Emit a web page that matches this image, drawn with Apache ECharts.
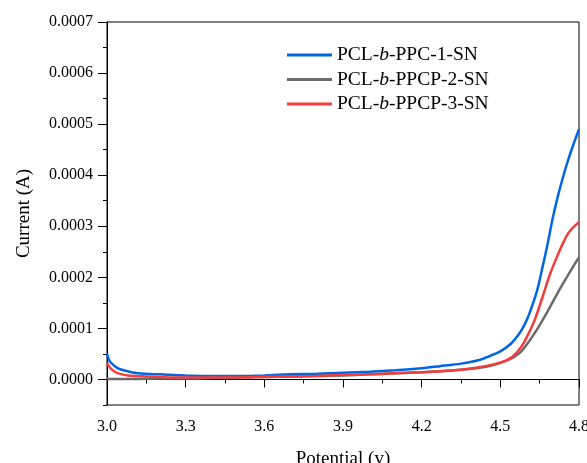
<!DOCTYPE html>
<html>
<head>
<meta charset="utf-8">
<script src="https://cdn.jsdelivr.net/npm/echarts@6/dist/echarts.min.js"></script>
<style>html,body{margin:0;padding:0;background:#fff;}#c{width:587px;height:463px;}</style>
</head>
<body>
<div id="c"></div>
<script>
var seriesNames = ['PCL-b-PPC-1-SN', 'PCL-b-PPCP-2-SN', 'PCL-b-PPCP-3-SN'];
var xTickLabels = ['3.0', '3.3', '3.6', '3.9', '4.2', '4.5', '4.8'];
var yTickLabels = ['0.0000', '0.0001', '0.0002', '0.0003', '0.0004', '0.0005', '0.0006', '0.0007'];

var potential1 = [3.00,3.01,3.03,3.05,3.08,3.12,3.20,3.30,3.40,3.50,3.60,3.70,3.80,3.90,4.00,4.10,4.20,4.27,4.35,4.42,4.46,4.50,4.54,4.57,4.59,4.61,4.64,4.66,4.68,4.70,4.72,4.74,4.76,4.78,4.80];
var current1 = [0.000050,0.000036,0.000026,0.000020,0.000016,0.000012,0.000010,0.000008,0.000007,0.000007,0.000008,0.000010,0.000011,0.000013,0.000015,0.000018,0.000022,0.000026,0.000031,0.000038,0.000046,0.000055,0.000070,0.000088,0.000105,0.000128,0.000174,0.000218,0.000265,0.000316,0.000360,0.000398,0.000432,0.000462,0.000490];

var potential2 = [3.00,3.10,3.20,3.30,3.40,3.50,3.60,3.70,3.80,3.90,4.00,4.10,4.20,4.27,4.35,4.42,4.47,4.52,4.55,4.58,4.61,4.64,4.67,4.70,4.73,4.76,4.78,4.80];
var current2 = [0.000001,0.000001,0.000002,0.000002,0.000003,0.000004,0.000005,0.000006,0.000007,0.000008,0.000010,0.000012,0.000014,0.000016,0.000019,0.000023,0.000028,0.000036,0.000043,0.000055,0.000075,0.000098,0.000124,0.000152,0.000180,0.000206,0.000223,0.000239];

var potential3 = [3.00,3.01,3.03,3.05,3.08,3.15,3.25,3.35,3.50,3.60,3.70,3.80,3.90,4.00,4.10,4.20,4.27,4.35,4.42,4.47,4.52,4.55,4.58,4.60,4.63,4.66,4.69,4.72,4.74,4.76,4.78,4.80];
var current3 = [0.000033,0.000024,0.000015,0.000011,0.000008,0.000006,0.000004,0.000004,0.000004,0.000005,0.000006,0.000007,0.000009,0.000010,0.000012,0.000014,0.000016,0.000019,0.000024,0.000029,0.000037,0.000046,0.000064,0.000082,0.000115,0.000160,0.000207,0.000245,0.000268,0.000287,0.000299,0.000308];

var colors = ['#0066e6', '#6b6b6b', '#f53c3c'];

function pairs(xs, ys) { return xs.map(function (x, i) { return [x, ys[i]]; }); }

var FONT = '"Liberation Serif", "Times New Roman", serif';
var chart = echarts.init(document.getElementById('c'), null, {renderer: 'canvas'});

var option = {
  animation: false,
  backgroundColor: '#fff',
  grid: [
    {left: 107, right: 8, top: 22, bottom: 58, show: true, borderColor: '#000', borderWidth: 1, outerBoundsMode: 'none', containLabel: false},
    {left: 107, right: 8, top: 22, bottom: 83.57, show: false, outerBoundsMode: 'none', containLabel: false}
  ],
  legend: {
    orient: 'vertical',
    left: 287,
    top: 45,
    padding: 0,
    icon: 'rect',
    itemWidth: 45,
    itemHeight: 3,
    itemGap: 4.5,
    data: seriesNames,
    textStyle: {
      fontFamily: FONT, fontSize: 19.5, color: '#000',
      rich: {
        n: {fontFamily: FONT, fontSize: 19.5, color: '#000'},
        i: {fontFamily: FONT, fontSize: 19.5, color: '#000', fontStyle: 'italic'}
      }
    },
    formatter: function (name) {
      var parts = name.split('-b-');
      return '{n|' + parts[0] + '-}{i|b}{n|-' + parts[1] + '}';
    }
  },
  xAxis: [
    {
      type: 'value', gridIndex: 0, min: 3.0, max: 4.8, interval: 0.3,
      name: 'Potential (v)', nameLocation: 'middle', nameGap: 45,
      nameTextStyle: {fontFamily: FONT, fontSize: 19, color: '#000'},
      axisLine: {lineStyle: {color: '#000', width: 1}},
      axisTick: {inside: false, length: 8, lineStyle: {color: '#000'}},
      minorTick: {show: true, splitNumber: 2, length: 4, lineStyle: {color: '#000'}},
      splitLine: {show: false},
      axisLabel: {
        fontFamily: FONT, fontSize: 16, color: '#000', margin: 14,
        formatter: function (v) {
          var idx = Math.round((v - 3.0) / 0.3);
          return xTickLabels[idx] !== undefined ? xTickLabels[idx] : '';
        }
      }
    },
    {type: 'value', gridIndex: 1, min: 3.0, max: 4.8, show: false}
  ],
  yAxis: [
    {
      type: 'value', gridIndex: 0, min: -0.00005, max: 0.0007, interval: 0.00005,
      name: 'Current (A)', nameLocation: 'middle', nameGap: 73,
      nameTextStyle: {fontFamily: FONT, fontSize: 19, color: '#000'},
      axisLine: {show: true, lineStyle: {color: '#000', width: 1}},
      axisTick: {inside: false, length: 4, lineStyle: {color: '#000'}},
      splitLine: {show: false},
      axisLabel: {
        fontFamily: FONT, fontSize: 16, color: '#000', margin: 14,
        formatter: function (v) {
          var k = Math.round(v / 0.00005);
          if (k < 0 || k % 2 !== 0) return '';
          return yTickLabels[k / 2] || '';
        }
      }
    },
    {
      type: 'value', gridIndex: 1, min: 0, max: 0.0007, interval: 0.0001,
      axisLine: {show: false},
      axisTick: {show: true, inside: false, length: 9, lineStyle: {color: '#000'}},
      axisLabel: {show: false},
      splitLine: {show: false}
    }
  ],
  series: [
    {name: seriesNames[0], type: 'line', xAxisIndex: 0, yAxisIndex: 0, data: pairs(potential1, current1), smooth: 0.3, symbol: 'none', color: colors[0], lineStyle: {width: 2.5, color: colors[0]}},
    {name: seriesNames[1], type: 'line', xAxisIndex: 0, yAxisIndex: 0, data: pairs(potential2, current2), smooth: 0.3, symbol: 'none', color: colors[1], lineStyle: {width: 2.5, color: colors[1]}},
    {name: seriesNames[2], type: 'line', xAxisIndex: 0, yAxisIndex: 0, data: pairs(potential3, current3), smooth: 0.3, symbol: 'none', color: colors[2], lineStyle: {width: 2.5, color: colors[2]}}
  ]
};
chart.setOption(option);
</script>
</body>
</html>
